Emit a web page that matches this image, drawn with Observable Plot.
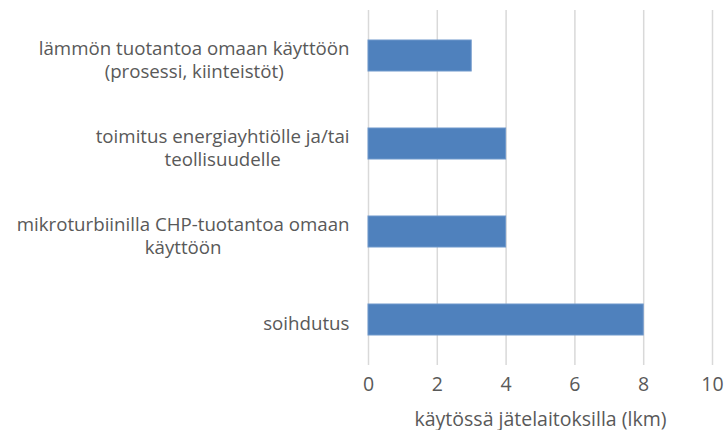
<!DOCTYPE html>
<html>
<head>
<meta charset="utf-8">
<script src="https://cdn.jsdelivr.net/npm/d3@7"></script>
<script src="https://cdn.jsdelivr.net/npm/@observablehq/plot@0.6"></script>
<style>
  html, body { margin: 0; padding: 0; background: #fff; }
  #chart svg { display: block; }
</style>
</head>
<body>
<div id="chart"></div>
<script>
// Data
const categories = [
  "lämmön tuotantoa omaan käyttöön (prosessi, kiinteistöt)",
  "toimitus energiayhtiölle ja/tai teollisuudelle",
  "mikroturbiinilla CHP-tuotantoa omaan käyttöön",
  "soihdutus"
];
const categoryLabels = [
  "lämmön tuotantoa omaan käyttöön\n(prosessi, kiinteistöt)",
  "toimitus energiayhtiölle ja/tai\nteollisuudelle",
  "mikroturbiinilla CHP-tuotantoa omaan\nkäyttöön",
  "soihdutus"
];
const values = [3, 4, 4, 8];
const xTicks = [0, 2, 4, 6, 8, 10];
const xTitle = "käytössä jätelaitoksilla (lkm)";

const data = categories.map((c, i) => ({category: c, value: values[i]}));
const labelOf = new Map(categories.map((c, i) => [c, categoryLabels[i]]));

const textColor = "#595959";
const fontFamily = "'Open Sans', 'Liberation Sans', Arial, sans-serif";

const chart = Plot.plot({
  width: 728,
  height: 430,
  marginTop: 10,
  marginBottom: 65,
  marginLeft: 368,
  marginRight: 16,
  style: {fontFamily, fontSize: "19.5px", color: textColor, background: "#fff"},
  x: {domain: [0, 10], ticks: xTicks},
  y: {domain: categories, paddingInner: 0.65, paddingOuter: 0.325},
  marks: [
    Plot.gridX(xTicks, {stroke: "#d9d9d9", strokeOpacity: 1, strokeWidth: 1.5}),
    Plot.barX(data, {x: "value", y: "category", fill: "#4f81bd", stroke: "#6f98cb", strokeWidth: 1}),
    Plot.axisX({ticks: xTicks, tickSize: 0, tickPadding: 12, fontSize: 19.5, fill: textColor,
      label: xTitle, labelAnchor: "center", labelArrow: "none", labelOffset: 60}),
    Plot.axisY({tickSize: 0, tickPadding: 19, tickFormat: d => labelOf.get(d), fill: textColor,
      fontSize: 18.7, lineHeight: 1.24, label: null, textOverflow: null, dy: 3})
  ]
});
document.getElementById("chart").appendChild(chart);

// Center multi-line y labels relative to each other, keeping right edge aligned
chart.querySelectorAll('g[aria-label="y-axis tick label"] text').forEach(t => {
  const bb = t.getBBox();
  t.setAttribute("text-anchor", "middle");
  const tr = t.getAttribute("transform") || "";
  t.setAttribute("transform", tr + ` translate(${-bb.width / 2},0)`);
});
</script>
</body>
</html>
